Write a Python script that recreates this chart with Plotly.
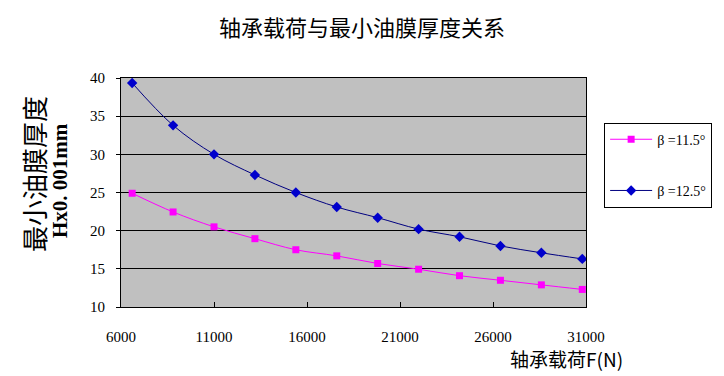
import plotly.graph_objects as go

load_n = [6600, 8800, 11000, 13200, 15400, 17600, 19800, 22000, 24200, 26400, 28600, 30800]
h_115 = [24.9, 22.45, 20.5, 18.95, 17.5, 16.7, 15.7, 14.95, 14.1, 13.5, 12.9, 12.3]
h_125 = [39.35, 33.8, 30.0, 27.3, 25.0, 23.1, 21.7, 20.2, 19.2, 18.0, 17.1, 16.3]
name_115 = "β =11.5°"
name_125 = "β =12.5°"
x_ticks = [6000, 11000, 16000, 21000, 26000, 31000]
y_ticks = [10, 15, 20, 25, 30, 35, 40]

serif = "Liberation Serif, Times New Roman, serif"
cjk = "Noto Sans CJK SC, sans-serif"

fig = go.Figure()
fig.add_trace(go.Scatter(
    x=load_n, y=h_115, name=name_115, mode="lines+markers",
    line=dict(color="#FF00FF", width=1, shape="spline", smoothing=1),
    marker=dict(symbol="square", size=7, color="#FF00FF"),
    legendgroup="a"))
fig.add_trace(go.Scatter(
    x=load_n, y=h_125, name=name_125, mode="lines+markers",
    line=dict(color="#000080", width=1, shape="spline", smoothing=1),
    marker=dict(symbol="diamond", size=8, color="#0000CC"),
    legendgroup="b"))

fig.update_layout(
    width=724, height=376,
    margin=dict(l=121, r=138, t=78, b=69, autoexpand=False),
    paper_bgcolor="white", plot_bgcolor="#C0C0C0",
    title=dict(text="轴承载荷与最小油膜厚度关系", x=362/724, xanchor="center",
               y=1 - 28/376, yanchor="middle", yref="container",
               font=dict(family=cjk, size=22, color="black")),
    showlegend=True,
    legend=dict(x=1.039, y=0.805, xanchor="left", yanchor="top",
                bgcolor="white", bordercolor="black", borderwidth=1,
                font=dict(family=serif, size=14, color="black"),
                traceorder="grouped", tracegroupgap=30,
                itemwidth=42),
    xaxis=dict(range=[6000, 31000], tickvals=x_ticks, tickformat="d",
               showgrid=False,
               ticks="inside", ticklen=5, tickcolor="black",
               showline=True, linecolor="black", linewidth=1, mirror=True,
               tickfont=dict(family=serif, size=15, color="black"),
               ticklabelstandoff=16, zeroline=False, automargin=False),
    yaxis=dict(range=[10, 40], tickvals=y_ticks, showgrid=True,
               gridcolor="black", gridwidth=1,
               ticks="outside", ticklen=4, tickcolor="black",
               showline=True, linecolor="black", linewidth=1, mirror=True,
               tickfont=dict(family=serif, size=15, color="black"),
               ticklabelstandoff=8, zeroline=False, automargin=False),
    annotations=[
        dict(text="最小油膜厚度", xref="paper", yref="paper",
             x=(33 - 121)/465, y=(307 - 174)/229, textangle=-90,
             showarrow=False, xanchor="center", yanchor="middle",
             font=dict(family=cjk, size=26, color="black")),
        dict(text="<b>Hx0. 001mm</b>", xref="paper", yref="paper",
             x=(60 - 121)/465, y=(307 - 180)/229, textangle=-90,
             showarrow=False, xanchor="center", yanchor="middle",
             font=dict(family=serif, size=21, color="black")),
        dict(text="轴承载荷F(N)", xref="paper", yref="paper",
             x=(566 - 121)/465, y=(307 - 358)/229,
             showarrow=False, xanchor="center", yanchor="middle",
             font=dict(family=cjk, size=19, color="black")),
    ],
)

fig.write_html("out.html", config={"displayModeBar": False},
               post_script="document.body.style.margin='0';document.body.style.padding='0';")
